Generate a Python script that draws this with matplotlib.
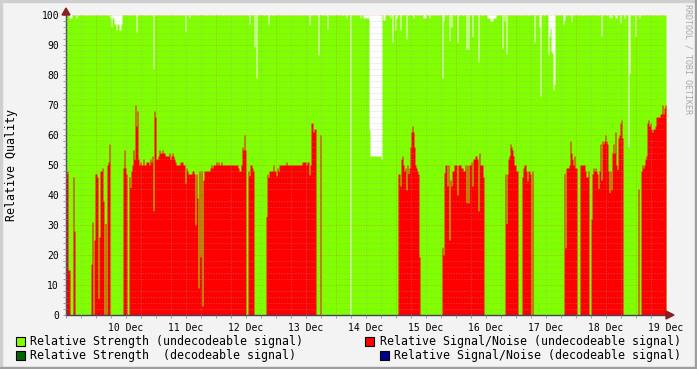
import matplotlib
matplotlib.use("Agg")
import matplotlib.pyplot as plt
import matplotlib.dates as mdates
import matplotlib.ticker as mticker
from matplotlib.patches import Rectangle, Polygon
import numpy as np

# time base: one sample every 24 minutes, 600 samples (10 days)
start = np.datetime64("2012-12-09T12:00")
step = np.timedelta64(24, "m")
n_steps = 600

# Relative Signal/Noise (undecodeable): sample index where value changes, new value
sn_at = [0, 1, 2, 4, 7, 8, 9, 25, 26, 27, 28, 29, 31, 32, 33, 34, 36, 37, 38, 39, 40, 41, 42, 43, 44,
         57, 58, 59, 60, 61, 63, 64, 65, 66, 67, 68, 69, 70, 71, 72, 73, 74, 75, 77, 78, 80, 83, 84, 85,
         86, 87, 88, 89, 90, 92, 93, 94, 96, 97, 99, 103, 104, 105, 106, 107, 108, 109, 110, 114, 117,
         119, 120, 121, 122, 126, 128, 129, 130, 131, 132, 133, 134, 135, 136, 137, 138, 144, 145, 146,
         147, 150, 151, 152, 153, 155, 156, 172, 173, 175, 176, 177, 178, 179, 180, 182, 183, 184, 186,
         187, 188, 200, 201, 202, 203, 207, 208, 210, 211, 212, 213, 220, 221, 236, 240, 241, 243, 244,
         245, 247, 248, 250, 254, 255, 332, 334, 335, 336, 337, 338, 339, 340, 341, 342, 343, 344, 345,
         346, 347, 348, 349, 350, 351, 352, 353, 354, 376, 377, 378, 379, 381, 382, 383, 384, 385, 386,
         388, 391, 392, 395, 397, 399, 400, 401, 402, 403, 405, 406, 407, 409, 411, 412, 413, 414, 417,
         418, 439, 440, 441, 442, 443, 444, 445, 446, 447, 448, 450, 452, 456, 457, 458, 460, 461, 462,
         464, 465, 466, 467, 498, 499, 500, 503, 504, 505, 506, 507, 508, 509, 511, 514, 519, 520, 522,
         523, 525, 526, 527, 528, 529, 530, 531, 532, 533, 534, 535, 536, 537, 538, 539, 540, 541, 542,
         543, 544, 545, 546, 547, 548, 549, 550, 551, 552, 553, 554, 555, 556, 557, 572, 573, 575, 576,
         577, 578, 579, 580, 581, 582, 583, 584, 585, 586, 587, 589, 590, 594, 596, 597, 598, 599]
sn_val = [47, 48, 15, 0, 46, 28, 0, 17, 31, 0, 25, 47, 46, 5.5, 26, 48, 49, 38, 0, 30.5, 0, 50, 51, 57, 0,
          49, 55, 49, 47, 0, 46, 42.5, 48, 50, 55, 52, 70, 63, 68, 52, 50, 51, 50, 52, 50, 51, 50, 52, 51,
          53, 34.7, 68, 66, 52, 53, 55, 54, 55, 54, 53, 54, 52, 53, 54, 53, 52, 51, 50, 51, 50,
          44, 49, 48, 47, 48, 47, 30, 47, 39, 9, 48, 19.4, 48, 3, 45, 48, 49, 50, 49,
          50, 51, 50, 51, 50, 51, 50, 49, 48, 50, 56, 55, 60, 55, 0, 48, 46.4, 50, 49,
          48, 0, 32.8, 47, 46, 48, 50, 48, 46.4, 49, 48, 50, 51, 50, 51, 50, 51, 46.7, 50,
          64, 61, 62, 0, 60, 0, 47, 43, 52, 53, 50, 48, 49, 41.7, 50, 47.2, 49, 56, 61,
          63, 61, 56, 50, 49, 48, 47, 19.4, 0, 22.6, 20, 47.4, 50, 43, 50, 25, 45, 43, 48,
          50, 40, 50, 49, 48, 50, 37.4, 50, 37.4, 50, 51, 43, 52, 53, 52, 34.7, 54, 50, 46,
          0, 47, 30.5, 47, 52, 53, 57, 56, 55, 53, 50, 48, 0, 46, 49, 50, 48, 44.7, 48,
          47, 0, 48, 0, 47.2, 22.4, 49, 50, 58, 54, 52, 50, 53, 49, 0, 50, 48, 46, 48,
          0, 32, 47, 49, 48, 49, 48, 47, 42.2, 48, 57, 45, 58, 57, 58, 60, 58, 57, 48,
          40.8, 48, 41.7, 54, 57, 54, 61, 50, 48.5, 59, 60, 64, 65, 59, 0, 42, 0, 48, 50,
          49, 50, 52, 53, 64, 65, 63, 64, 62, 61, 62, 63, 66, 67, 70, 67, 69, 70]

# Relative Strength (undecodeable): sample index where value changes, new value
st_at = [0, 3, 6, 10, 11, 44, 45, 46, 48, 50, 51, 53, 55, 56, 70, 71, 87, 88, 119, 120, 123, 124, 183, 184,
         188, 189, 190, 191, 202, 203, 243, 244, 252, 253, 261, 262, 280, 281, 284, 285, 294, 295, 297,
         303, 304, 315, 316, 317, 319, 324, 325, 326, 327, 329, 330, 331, 334, 335, 340, 341, 347, 348,
         357, 360, 363, 364, 376, 377, 378, 383, 384, 385, 386, 391, 392, 400, 401, 402, 403, 406, 407,
         412, 413, 421, 424, 427, 430, 436, 437, 438, 439, 440, 441, 468, 469, 473, 474, 475, 482, 483,
         484, 485, 486, 487, 488, 489, 497, 498, 499, 505, 506, 535, 536, 543, 544, 545, 546, 549, 551,
         554, 555, 558, 559, 562, 563, 564, 569, 570, 573, 574]
st_val = [100, 99, 100, 99, 100, 99, 96, 99, 97, 95, 97, 95, 97, 100, 94.3, 100, 82, 100, 94.4, 100, 99, 100, 97, 100,
          89.4, 100, 79, 100, 97, 100, 96.7, 100, 86.7, 100, 95.3, 100, 99, 100, 0, 100, 99, 100, 99,
          61.7, 53, 52, 100, 98.3, 100, 99, 100, 91, 100, 95, 99, 100, 95, 100, 92, 100, 99, 100,
          99, 100, 99, 100, 79, 98, 100, 91.4, 100, 96, 100, 91, 100, 88.6, 100, 88.6, 100, 92.8, 100,
          84.4, 100, 99, 98, 99, 100, 89, 100, 98, 100, 87, 100, 91, 100, 96, 73, 100, 86.7, 93,
          95.6, 87.8, 87.2, 75, 77, 100, 97, 98.3, 100, 97.8, 100, 93, 100, 99, 100, 99, 100, 99, 100,
          97.4, 100, 99, 100, 56, 80.5, 100, 92.8, 100, 99, 100]

legend_labels = ["Relative Strength (undecodeable signal)",
                 "Relative Signal/Noise (undecodeable signal)",
                 "Relative Strength  (decodeable signal)",
                 "Relative Signal/Noise (decodeable signal)"]
legend_colors = ["#80FF00", "#FF0000", "#006400", "#000090"]


def expand(at, val):
    out = np.zeros(n_steps)
    edges = list(at) + [n_steps]
    for k in range(len(at)):
        out[edges[k]:edges[k + 1]] = val[k]
    return np.append(out, out[-1])


times = (start + np.arange(n_steps + 1) * step).astype("datetime64[s]").astype(object)
strength = expand(st_at, st_val)
snr = expand(sn_at, sn_val)

W, H = 697, 369
mono = "DejaVu Sans Mono"
fig = plt.figure(figsize=(W / 100, H / 100), dpi=100, facecolor="#F3F3F3")
ax = fig.add_axes([66 / W, (H - 315) / H, 600 / W, 300 / H])
ax.set_facecolor("white")

ax.fill_between(times, 0, strength, step="post", color="#80FF00", lw=0, antialiased=False)
ax.fill_between(times, 0, snr, step="post", color="#FF0000", lw=0, antialiased=False)

ax.set_xlim(times[0], times[-1])
ax.set_ylim(0, 100)
x_first = mdates.date2num(times[0])


def day_label(v, pos):
    d = mdates.num2date(v)
    if d.hour != 12 or v <= x_first + 1e-6:
        return ""
    return d.strftime("%d %b")


# grid like rrdtool: grey minor, reddish major, dotted, drawn on top
ax.set_axisbelow(False)
ax.yaxis.set_major_locator(mticker.MultipleLocator(10))
ax.yaxis.set_minor_locator(mticker.MultipleLocator(2))
ax.xaxis.set_major_locator(mdates.DayLocator())
ax.xaxis.set_major_formatter(mticker.NullFormatter())
ax.xaxis.set_minor_locator(mdates.HourLocator(byhour=[6, 12, 18]))
ax.xaxis.set_minor_formatter(mticker.FuncFormatter(day_label))

dots = (0, (1.4, 1.4))
ax.grid(which="major", color="#FF0000", alpha=0.2, lw=0.7, ls=dots)
ax.grid(which="minor", color="#A0A0A0", alpha=0.35, lw=0.7, ls=dots)

ax.tick_params(which="both", direction="out", length=2, width=0.6, color="#909090",
               labelsize=7, pad=3)
ax.tick_params(axis="x", which="minor", pad=4)
for lab in ax.get_xticklabels(which="both") + ax.get_yticklabels():
    lab.set_fontfamily(mono)

for s in ["top", "right"]:
    ax.spines[s].set_visible(False)
for s in ["left", "bottom"]:
    ax.spines[s].set_color("#404060")
    ax.spines[s].set_linewidth(1)

ax.set_ylabel("Relative Quality", fontsize=8.4, family=mono)
ax.yaxis.set_label_coords(-48 / 600, 0.5)

# axis arrows
fig.patches.append(Polygon([[62, H - 15], [70, H - 15], [66, H - 8]], closed=True,
                           transform=None, color="#8B2020"))
fig.patches.append(Polygon([[666, H - 311], [666, H - 319], [674, H - 315]], closed=True,
                           transform=None, color="#8B2020"))

# legend
rows = [(341, 16, 30), (341, 365, 380), (355, 16, 30), (355, 380, 394)]
for (yc, bx, tx), lab, col in zip(rows, legend_labels, legend_colors):
    fig.patches.append(Rectangle((bx, H - yc - 5), 9, 9, transform=None,
                                 facecolor=col, edgecolor="black", lw=0.8))
    fig.text(tx / W, (H - yc) / H, lab, fontsize=8.4, family=mono, va="center", ha="left")

fig.text(688 / W, 1 - 4 / H, "RRDTOOL / TOBI OETIKER", rotation=270, va="top", ha="center",
         fontsize=6, family=mono, color="#A8A8A8")

# frame shading
fig.patches.append(Rectangle((0, H - 2), W, 2, transform=None, color="#CFCFCF"))
fig.patches.append(Rectangle((0, 0), 2, H, transform=None, color="#CFCFCF"))
fig.patches.append(Rectangle((0, 0), W, 2, transform=None, color="#9E9E9E"))
fig.patches.append(Rectangle((W - 2, 0), 2, H, transform=None, color="#9E9E9E"))

fig.savefig("out.png", dpi=100, facecolor=fig.get_facecolor())
